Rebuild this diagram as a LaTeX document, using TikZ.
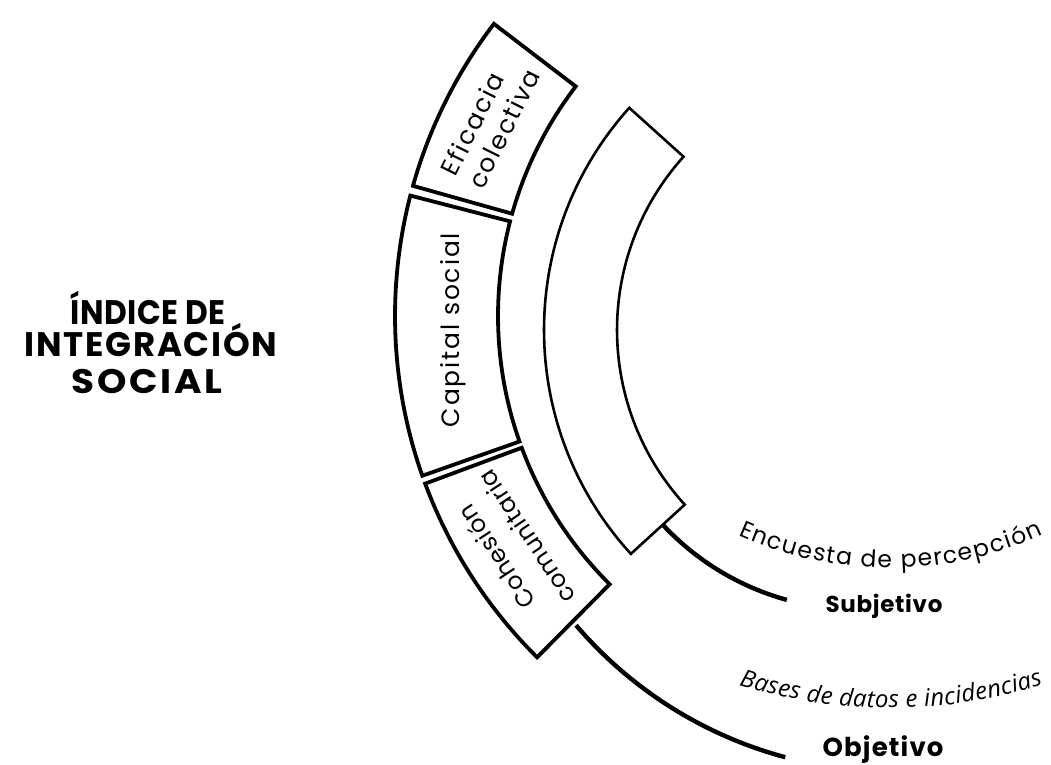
\documentclass[tikz,border=0pt]{standalone}
\usepackage{fontspec}
\setmainfont{Poppins}
\newfontfamily\opensans{Open Sans}
\usetikzlibrary{calc,decorations.text}
\begin{document}
\begin{tikzpicture}[x=1pt,y=1pt,
  band/.style={draw=black, line width=3.8pt, line join=miter, fill=white},
  innerband/.style={draw=black, line width=2.6pt, line join=miter, fill=white},
  link/.style={draw=black, line width=4.4pt},
  seglabel/.style={font=\fontsize{25}{30.5}\selectfont\addfontfeature{LetterSpace=7.5}, inner sep=0pt},
  titlefont/.style={font=\fontsize{34}{34}\selectfont\bfseries\addfontfeature{LetterSpace=5}, anchor=base, inner sep=0pt},
  levelfont/.style={anchor=base, inner sep=0pt},
]
\useasboundingbox (0,0) rectangle (1051,764);
\fill[white] (0,0) rectangle (1051,764);
\coordinate (C1) at (876,448);
\coordinate (C2) at (876,434);
\coordinate (CS) at (857.6,420.8);
\coordinate (CO) at (893.1,409.6);
% connectors
\coordinate (s0) at ($(CS)+(223:266.3)$);
\draw[link] (s0) arc[start angle=223, end angle=254.6, radius=266.3] coordinate (s1);
\coordinate (o0) at ($(CO)+(220.5:417)$);
\draw[link] (o0) arc[start angle=220.5, end angle=255, radius=417] coordinate (o1);
% inner band
\draw[innerband] ($(C2)+(138:332)$) arc[start angle=138, end angle=222.4, radius=332]
  -- ($(C2)+(222.4:259)$) arc[start angle=222.4, end angle=138, radius=259] -- cycle;
% outer band segments
\draw[band] ($(C1)+(142.6:481)$) arc[start angle=142.6, end angle=164.3, radius=481]
  -- ($(C1)+(164.3:378)$) arc[start angle=164.3, end angle=142.6, radius=378] -- cycle;
\draw[band] ($(C1)+(165.5:481)$) arc[start angle=165.5, end angle=199.4, radius=481]
  -- ($(C1)+(199.4:378)$) arc[start angle=199.4, end angle=165.5, radius=378] -- cycle;
\draw[band] ($(C1)+(200.4:481)$) arc[start angle=200.4, end angle=225.2, radius=481]
  -- ($(C1)+(225.2:378)$) arc[start angle=225.2, end angle=200.4, radius=378] -- cycle;
% segment labels
\node[seglabel, align=left, rotate=63.5] (efi) at (490,642) {Eficacia\\colectiva};
\node[seglabel, rotate=90] (cap) at (453,434) {Capital social};
\node[seglabel, align=center, rotate=123.5, font=\fontsize{24}{36}\selectfont\addfontfeature{LetterSpace=3}] (coh) at (511,217) {Cohesión\\comunitaria};
% title
\node[titlefont] (t1) at (148,439) {\scalebox{0.92}[1]{\addfontfeature{LetterSpace=1.5}ÍNDICE DE}};
\node[titlefont] (t2) at (151,407) {INTEGRACIÓN};
\node[titlefont] (t3) at (147,371) {\scalebox{1.1}[1]{\addfontfeature{LetterSpace=7}SOCIAL}};
% curved texts
\path[decorate, decoration={text along path, text align=fit to path,
  text={|\fontsize{23.5}{23.5}\selectfont|Encuesta de percepción}}]
  ($(890,565)+(245.7:369)$) arc[start angle=245.7, end angle=294.5, radius=369];
\path[decorate, decoration={text along path, text align=fit to path,
  text={|\opensans\itshape\fontsize{24}{24}\selectfont|Bases de datos e incidencias}}]
  ($(890,570)+(252.9:514)$) arc[start angle=252.9, end angle=287.3, radius=514];
% levels
\node[levelfont, font=\fontsize{23}{23}\selectfont\bfseries\addfontfeature{LetterSpace=3}] (subj) at (884,152) {Subjetivo};
\node[levelfont, font=\fontsize{26}{26}\selectfont\bfseries\addfontfeature{LetterSpace=4.5}] (obj) at (883,8) {Objetivo};
\end{tikzpicture}
\end{document}
